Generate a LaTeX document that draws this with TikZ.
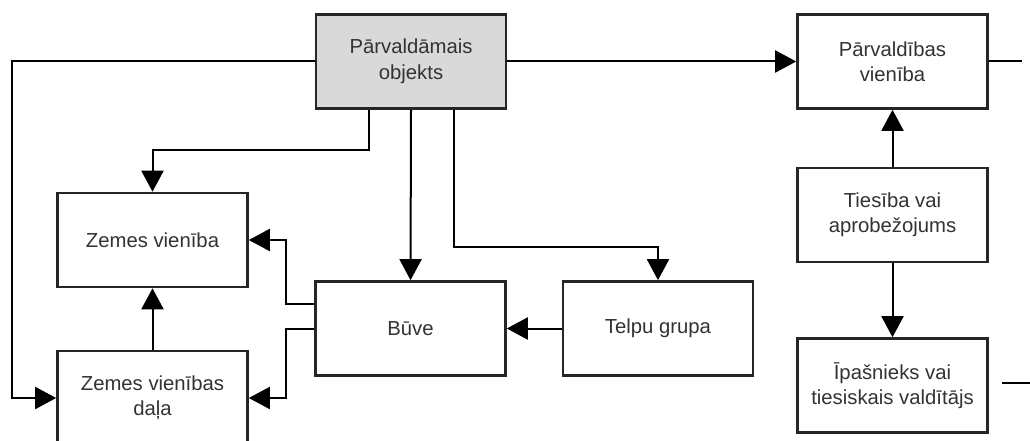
\documentclass[tikz,border=0pt]{standalone}
\usepackage{fontspec}
\setmainfont{Liberation Sans}
\usetikzlibrary{arrows.meta}
\begin{document}
\begin{tikzpicture} [
        x=1pt, y=-1pt,
        box/.style={draw=black!85, rectangle, line width=2.6pt, fill=white,
            minimum width=190pt, minimum height=94pt, inner sep=0pt,
            text=black!80, font=\fontsize{20.3}{25.5}\selectfont},
        grey/.style={fill=black!15},
        arr/.style={-{Triangle[length=21pt,width=22pt]}},
        align=center,
        line width=2pt ]
    \clip (0,0) rectangle (1030,441);
    \fill[white] (0,0) rectangle (1030,441);
    \node[box, grey] (obj) at (411,61.5) {Pārvaldāmais\\objekts};
    \node[box] (parvvien) at (892.5,61.5) {Pārvaldības\\vienība};
    \node[box] (zemvien) at (152.5,240) {Zemes vienība};
    \node[box] (zemdala) at (152.5,398) {Zemes vienības\\daļa};
    \node[box] (buve) at (410.5,328.5) {Būve};
    \node[box] (telpu) at (658,328.5) {Telpu grupa};
    \node[box] (tiesiba) at (892.5,215) {Tiesība vai\\aprobežojums};
    \node[box] (ipasn) at (892.5,385.5) {Īpašnieks vai\\tiesiskais valdītājs};
    % from the managed object
    \draw[arr] (obj.west) -- ++(-303,0) |- (zemdala.west);
    \draw[arr] ([xshift=-42pt]obj.south) -- ++(0,40) -| (zemvien.north);
    \draw[arr] (obj.south) -- (buve.north);
    \draw[arr] ([xshift=43pt]obj.south) -- ++(0,137) -| (telpu.north);
    \draw[arr] (obj.east) -- (parvvien.west);
    \draw (parvvien.east) -- ++(33,0);
    % right column
    \draw[arr] (tiesiba.north) -- (parvvien.south);
    \draw[arr] (tiesiba.south) -- (ipasn.north);
    \draw ([xshift=13pt,yshift=2.5pt]ipasn.east) -- ++(30,0);
    % buildings
    \draw[arr] (telpu.west) -- (buve.east);
    \draw[arr] ([yshift=25pt]buve.west) -- ++(-28,0) |- (zemvien.east);
    \draw[arr] (buve.west) -- ++(-28,0) |- (zemdala.east);
    \draw[arr] (zemdala.north) -- (zemvien.south);
\end{tikzpicture}
\end{document}
